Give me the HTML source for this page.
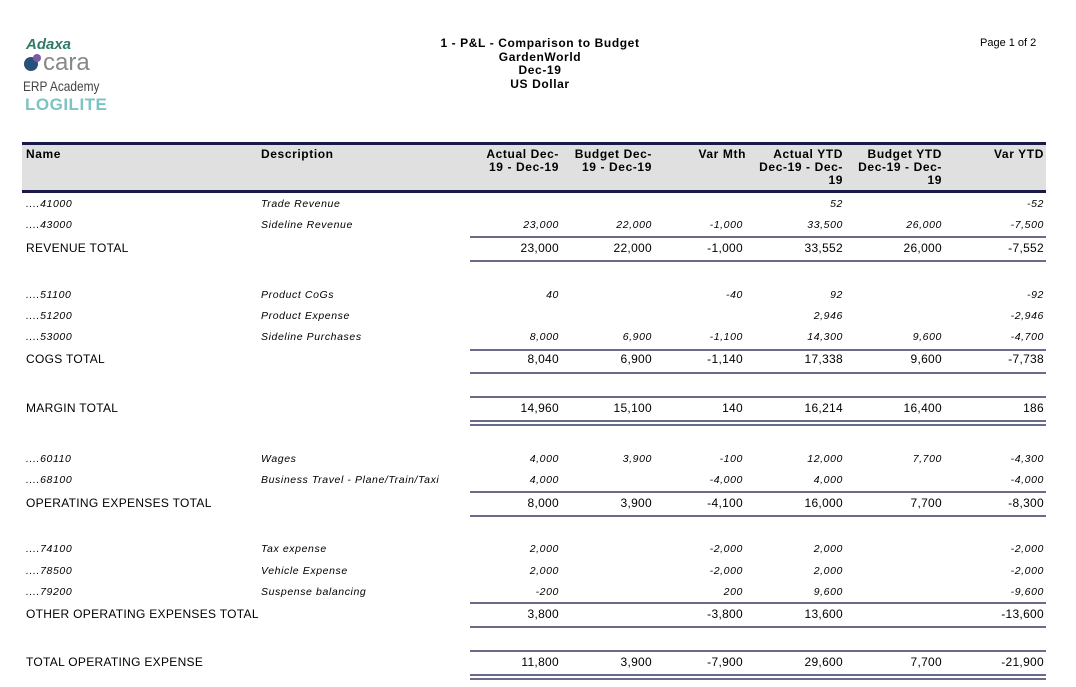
<!DOCTYPE html>
<html><head><style>
body{margin:0;width:1076px;height:687px;background:#fff;position:relative;overflow:hidden;font-family:"Liberation Sans",Arial,sans-serif;color:#000}
.a{position:absolute;white-space:nowrap}
.t{font-size:12px;font-weight:bold;letter-spacing:.6px;text-align:center}
.hd{font-size:12px;font-weight:bold;letter-spacing:.6px;line-height:13px}
.d{font-size:10.5px;font-style:italic;letter-spacing:.6px}
.tt{font-size:12px;letter-spacing:.3px}
.r{text-align:right}
.ln{position:absolute;left:470px;width:576px;height:2px;background:#6a6a8a}
</style></head><body>
<div class="a" style="left:26px;top:36px;font-size:15px;font-weight:bold;font-style:italic;color:#2f7a6a">Adaxa</div>
<div class="a" style="left:24px;top:57px;width:14px;height:14px;border-radius:50%;background:#28507a"></div>
<div class="a" style="left:33px;top:54px;width:8px;height:8px;border-radius:50%;background:#7a5aa8"></div>
<div class="a" style="left:43px;top:49px;font-size:24px;color:#888">cara</div>
<div class="a" style="left:23px;top:78px;font-size:14px;color:#444;transform:scaleX(.85);transform-origin:left">ERP Academy</div>
<div class="a" style="left:25px;top:95px;font-size:17px;font-weight:bold;color:#7cc4c0;letter-spacing:.5px">LOGILITE</div>
<div class="a t" style="left:390px;width:300px;top:37px;line-height:13.5px">1 - P&amp;L - Comparison to Budget<br>GardenWorld<br>Dec-19<br>US Dollar</div>
<div class="a" style="left:980px;top:37px;font-size:11px">Page 1 of 2</div>
<div class="a" style="left:22px;top:142px;width:1024px;height:51px;background:#e0e0e0;border-top:3px solid #1a1a4a;border-bottom:3px solid #1a1a4a;box-sizing:border-box"></div>
<div class="a hd" style="left:26px;top:148px">Name</div>
<div class="a hd" style="left:261px;top:148px">Description</div>
<div class="a hd r" style="right:517px;top:148px">Actual Dec-<br>19 - Dec-19</div>
<div class="a hd r" style="right:424px;top:148px">Budget Dec-<br>19 - Dec-19</div>
<div class="a hd r" style="right:330px;top:148px">Var Mth</div>
<div class="a hd r" style="right:233px;top:148px">Actual YTD<br>Dec-19 - Dec-<br>19</div>
<div class="a hd r" style="right:134px;top:148px">Budget YTD<br>Dec-19 - Dec-<br>19</div>
<div class="a hd r" style="right:32px;top:148px">Var YTD</div>
<div id="rows"></div>
<script>
var R=[559,652,743,843,942,1044];
var rows=[
[204,'d','....41000','Trade Revenue',['','','','52','','-52']],
[225,'d','....43000','Sideline Revenue',['23,000','22,000','-1,000','33,500','26,000','-7,500']],
[248,'tt','REVENUE TOTAL','',['23,000','22,000','-1,000','33,552','26,000','-7,552']],
[295,'d','....51100','Product CoGs',['40','','-40','92','','-92']],
[316,'d','....51200','Product Expense',['','','','2,946','','-2,946']],
[337,'d','....53000','Sideline Purchases',['8,000','6,900','-1,100','14,300','9,600','-4,700']],
[359,'tt','COGS TOTAL','',['8,040','6,900','-1,140','17,338','9,600','-7,738']],
[408,'tt','MARGIN TOTAL','',['14,960','15,100','140','16,214','16,400','186']],
[459,'d','....60110','Wages',['4,000','3,900','-100','12,000','7,700','-4,300']],
[480,'d','....68100','Business Travel - Plane/Train/Taxi',['4,000','','-4,000','4,000','','-4,000']],
[503,'tt','OPERATING EXPENSES TOTAL','',['8,000','3,900','-4,100','16,000','7,700','-8,300']],
[549,'d','....74100','Tax expense',['2,000','','-2,000','2,000','','-2,000']],
[571,'d','....78500','Vehicle Expense',['2,000','','-2,000','2,000','','-2,000']],
[592,'d','....79200','Suspense balancing',['-200','','200','9,600','','-9,600']],
[614,'tt','OTHER OPERATING EXPENSES TOTAL','',['3,800','','-3,800','13,600','','-13,600']],
[662,'tt','TOTAL OPERATING EXPENSE','',['11,800','3,900','-7,900','29,600','7,700','-21,900']]];
var h='';
rows.forEach(function(r){var top=r[0]-(r[1]=='d'?6:7);
h+='<div class="a '+r[1]+'" style="left:26px;top:'+top+'px">'+r[2]+'</div>';
if(r[3])h+='<div class="a d" style="left:261px;top:'+top+'px">'+r[3]+'</div>';
r[4].forEach(function(v,i){if(v)h+='<div class="a '+r[1]+' r" style="right:'+(1076-R[i])+'px;top:'+top+'px">'+v+'</div>';});});
[236,260,349,372,396,420,424,491,515,602,626,650,674,678].forEach(function(y){h+='<div class="ln" style="top:'+y+'px"></div>';});
document.getElementById('rows').innerHTML=h;
</script>
</body></html>
